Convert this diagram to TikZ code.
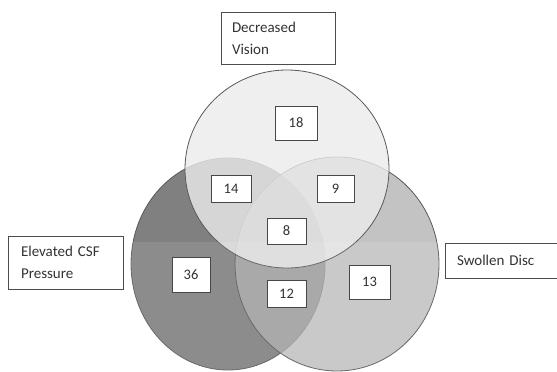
\documentclass[tikz,border=0pt]{standalone}
\usepackage{fontspec}
\setmainfont{Carlito}
\begin{document}
\begin{tikzpicture}[x=1pt,y=-1pt,
  setfill/.style={draw=black!65, line width=0.8pt},
  labelbox/.style={draw=black!70, line width=0.9pt, fill=white, align=left,
    inner xsep=11pt, font=\fontsize{15}{22}\selectfont, text=black!80},
  countbox/.style={draw=black!72, line width=1pt, fill=white, inner sep=0pt,
    font=\fontsize{14.5}{16}\selectfont, text=black!80}]
\useasboundingbox (0,0) rectangle (557,372);
\fill[white] (0,0) rectangle (557,372);

% the three sets, later fills partly cover earlier outlines
\path[setfill, fill=black!50] (228,264) ellipse [x radius=97pt, y radius=106pt];
\path[setfill, fill=black!32, fill opacity=0.73] (337,264) ellipse [x radius=102pt, y radius=107pt];
\path[setfill, fill=black!7.5, fill opacity=0.8] (287,169) ellipse [x radius=102pt, y radius=99pt];

% lower part of the chart is printed a shade lighter
\fill[white, opacity=0.1] (0,242) rectangle (557,372);

% set names
\node[labelbox, minimum width=114pt, minimum height=52pt, text width=92pt] (vision) at (278,38) {Decreased\\Vision};
\node[labelbox, minimum width=115pt, minimum height=53pt, text width=89pt, inner xsep=13pt] (csf) at (65.5,262.5) {Elevated CSF\\Pressure};
\node[labelbox, minimum width=113pt, minimum height=35pt, text width=89pt, inner xsep=12pt] (disc) at (501.5,260.5) {Swollen Disc};

% region counts
\node[countbox, minimum width=42pt, minimum height=34pt] (nV) at (296,123) {18};
\node[countbox, minimum width=40pt, minimum height=27pt] (nVC) at (231,188.5) {14};
\node[countbox, minimum width=37pt, minimum height=27pt] (nVD) at (335.5,188.5) {9};
\node[countbox, minimum width=39pt, minimum height=26pt] (nVCD) at (286.5,231) {8};
\node[countbox, minimum width=38pt, minimum height=35pt] (nC) at (191,274.5) {36};
\node[countbox, minimum width=41pt, minimum height=34pt] (nD) at (369.5,282) {13};
\node[countbox, minimum width=39pt, minimum height=27pt] (nCD) at (286.5,293.5) {12};
\end{tikzpicture}
\end{document}
